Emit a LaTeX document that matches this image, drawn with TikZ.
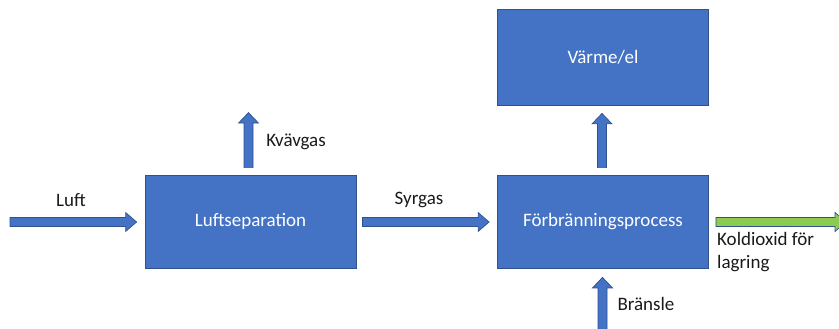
\documentclass[tikz,border=0pt]{standalone}
\usepackage{fontspec}
\setmainfont{Carlito}
\usetikzlibrary{calc}
\definecolor{boxblue}{HTML}{4472C4}
\definecolor{boxline}{HTML}{2F528F}
\definecolor{arrgreen}{HTML}{8CCB52}
\definecolor{txt}{HTML}{1A1A1A}
\tikzset{
  procbox/.style={draw=boxline, line width=0.8pt, fill=boxblue, minimum width=211pt, minimum height=93pt, inner sep=0pt, text=white, font=\fontsize{19}{23}\selectfont},
  blockarr/.style={draw=boxline, line width=0.7pt, fill=boxblue},
  greenarr/.style={draw=boxline, line width=0.7pt, fill=arrgreen},
  lbl/.style={text=txt, font=\fontsize{19}{23}\selectfont, inner sep=0pt}
}
% horizontal block arrow from #2 to #3 (tip), style #1
\newcommand\harr[3]{\draw[#1] ($(#2)+(0,-4.5)$) -- ($(#3)+(-11,-4.5)$) -- ($(#3)+(-11,-9.5)$) -- (#3) -- ($(#3)+(-11,9.5)$) -- ($(#3)+(-11,4.5)$) -- ($(#2)+(0,4.5)$) -- cycle;}
% vertical upward block arrow from #2 (bottom) to #3 (tip)
\newcommand\varr[3]{\draw[#1] ($(#2)+(-4.5,0)$) -- ($(#3)+(-4.5,10.5)$) -- ($(#3)+(-10,10.5)$) -- (#3) -- ($(#3)+(10,10.5)$) -- ($(#3)+(4.5,10.5)$) -- ($(#2)+(4.5,0)$) -- cycle;}
\begin{document}
\begin{tikzpicture}[x=1pt, y=-1pt]
\useasboundingbox (0,0) rectangle (839,329);
\node[procbox] (ls) at (250.5,221.5) {Luftseparation};
\node[procbox] (fp) at (603,221.5) {Förbränningsprocess};
\node[procbox, minimum height=96pt] (ve) at (603,57) {Värme/el};
% coordinates for free ends
\coordinate (luftin) at (10,222);
\coordinate (luftend) at ($(ls.west |- luftin)+(-8,0)$);
\coordinate (syrA) at ($(ls.east |- luftin)+(6,0)$);
\coordinate (syrB) at ($(fp.west |- luftin)+(-8,0)$);
\coordinate (kvA) at ($(ls.north)+(-2,-7)$);
\coordinate (kvB) at ($(ls.north)+(-2,-62)$);
\coordinate (veA) at ($(fp.north)+(-1,-7)$);
\coordinate (veB) at ($(ve.south)+(-1,8)$);
\coordinate (brA) at (602.5,332);
\coordinate (brB) at ($(fp.south)+(-0.5,9)$);
\coordinate (coA) at ($(fp.east |- luftin)+(7,0)$);
\coordinate (coB) at (846,222);
\harr{blockarr}{luftin}{luftend}
\harr{blockarr}{syrA}{syrB}
\varr{blockarr}{kvA}{kvB}
\varr{blockarr}{veA}{veB}
\varr{blockarr}{brA}{brB}
\harr{greenarr}{coA}{coB}
% labels
\node[lbl] (luftlbl) at (71,200) {Luft};
\node[lbl] (kvlbl) at (296,142) {Kvävgas};
\node[lbl] (syrlbl) at (419,200) {Syrgas};
\node[lbl] (brlbl) at (646,304) {Bränsle};
\node[lbl, anchor=west, align=left] (colbl) at (717,252) {Koldioxid för\\lagring};
\end{tikzpicture}
\end{document}
